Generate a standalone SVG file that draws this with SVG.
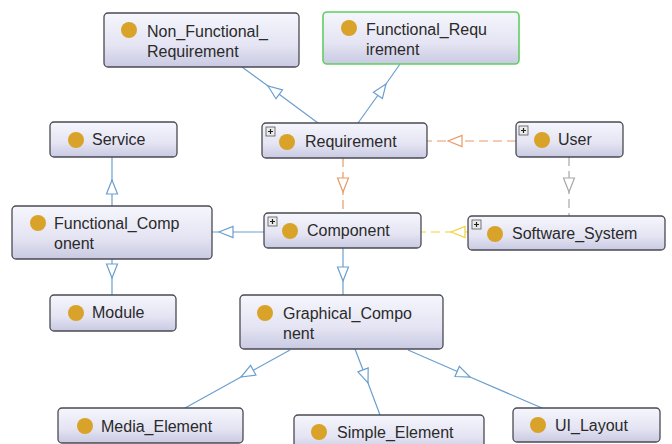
<svg xmlns="http://www.w3.org/2000/svg" width="672" height="444" viewBox="0 0 672 444">
  <defs>
    <linearGradient id="boxFill" x1="0" y1="0" x2="0" y2="1">
      <stop offset="0" stop-color="#f6f6fd"/>
      <stop offset="0.6" stop-color="#e4e4f3"/>
      <stop offset="1" stop-color="#c9c9e2"/>
    </linearGradient>
    <marker id="triBlue" viewBox="-15 -7 16 14" refX="0" refY="0" markerWidth="16" markerHeight="14" markerUnits="userSpaceOnUse" orient="auto">
      <path d="M0,0 L-14,-5.5 L-14,5.5 Z" fill="#fff" stroke="#6b9fcf" stroke-width="1.2"/>
    </marker>
    <marker id="triOrange" viewBox="-15 -7 16 14" refX="0" refY="0" markerWidth="16" markerHeight="14" markerUnits="userSpaceOnUse" orient="auto">
      <path d="M0,0 L-14,-5.5 L-14,5.5 Z" fill="#fff" stroke="#e89a66" stroke-width="1.2"/>
    </marker>
    <marker id="triGrey" viewBox="-15 -7 16 14" refX="0" refY="0" markerWidth="16" markerHeight="14" markerUnits="userSpaceOnUse" orient="auto">
      <path d="M0,0 L-14,-5.5 L-14,5.5 Z" fill="#fff" stroke="#a8a8a8" stroke-width="1.2"/>
    </marker>
    <marker id="triYellow" viewBox="-15 -7 16 14" refX="0" refY="0" markerWidth="16" markerHeight="14" markerUnits="userSpaceOnUse" orient="auto">
      <path d="M0,0 L-14,-5.5 L-14,5.5 Z" fill="#fff" stroke="#f2d23a" stroke-width="1.2"/>
    </marker>
  </defs>
  <style>
    .box { fill: url(#boxFill); stroke: #4a4a52; stroke-width: 1.3; }
    .box.sel { stroke: #5fcf5f; stroke-width: 1.6; }
    .dot { fill: #d9a228; }
    .lbl { font-family: "Liberation Sans", Arial, sans-serif; font-size: 16px; fill: #2a2a2a; }
    .exp rect { fill: #ececec; stroke: #555; stroke-width: 0.8; }
    .exp path { stroke: #222; stroke-width: 1.2; fill: none; }
    .edge { fill: none; stroke-width: 1.2; }
    .blue { stroke: #6b9fcf; marker-mid: url(#triBlue); }
    .orange { stroke: #e89a66; stroke-dasharray: 9 5; marker-mid: url(#triOrange); }
    .grey { stroke: #a8a8a8; stroke-dasharray: 9 5; marker-mid: url(#triGrey); }
    .yellow { stroke: #f2d23a; stroke-dasharray: 9 5; marker-mid: url(#triYellow); }
  </style>

  <rect width="672" height="444" fill="#fff"/>

  <!-- connectors: each path passes through the arrow tip, where the marker sits -->
  <g id="connectors">
    <path class="edge blue" d="M318,123 L268,86 L242,67"/>
    <path class="edge blue" d="M358,123 L386,84 L400,64"/>
    <path class="edge orange" d="M343,158 L343,192 L343,214"/>
    <path class="edge orange" d="M516,141 L448,141 L427,141"/>
    <path class="edge grey" d="M569,157 L569,192 L569,216"/>
    <path class="edge yellow" d="M468,232 L451,232 L421,232"/>
    <path class="edge blue" d="M264,232 L219,232 L212,232"/>
    <path class="edge blue" d="M112,206 L112,180 L112,157"/>
    <path class="edge blue" d="M112,259 L112,278 L112,295"/>
    <path class="edge blue" d="M343,248 L343,281 L343,295"/>
    <path class="edge blue" d="M290,350 L241,377 L185,408"/>
    <path class="edge blue" d="M355,349 L368,383 L380,415"/>
    <path class="edge blue" d="M408,350 L470,377 L542,408"/>
  </g>

  <g id="non_functional_requirement">
    <rect class="box" x="104" y="13" width="195" height="54" rx="4"/>
    <circle class="dot" cx="129" cy="30" r="8"/>
    <text class="lbl" x="147" y="37">Non_Functional_</text>
    <text class="lbl" x="147" y="57">Requirement</text>
  </g>

  <g id="functional_requirement">
    <rect class="box sel" x="323" y="12" width="196" height="52" rx="4"/>
    <circle class="dot" cx="349" cy="28" r="8"/>
    <text class="lbl" x="366" y="35">Functional_Requ</text>
    <text class="lbl" x="366" y="55">irement</text>
  </g>

  <g id="requirement">
    <rect class="box" x="262" y="123" width="165" height="35" rx="4"/>
    <g class="exp"><rect x="266" y="127" width="9" height="9"/><path d="M268,131.5 H273 M270.5,129 V134"/></g>
    <circle class="dot" cx="287" cy="142" r="8"/>
    <text class="lbl" x="305" y="147">Requirement</text>
  </g>

  <g id="user">
    <rect class="box" x="516" y="122" width="107" height="35" rx="4"/>
    <g class="exp"><rect x="519" y="126" width="9" height="9"/><path d="M521,130.5 H526 M523.5,128 V133"/></g>
    <circle class="dot" cx="542" cy="140" r="8"/>
    <text class="lbl" x="558" y="145">User</text>
  </g>

  <g id="service">
    <rect class="box" x="50" y="122" width="127" height="35" rx="4"/>
    <circle class="dot" cx="76" cy="140" r="8"/>
    <text class="lbl" x="92" y="145">Service</text>
  </g>

  <g id="functional_component">
    <rect class="box" x="12" y="206" width="200" height="53" rx="4"/>
    <circle class="dot" cx="38" cy="223" r="8"/>
    <text class="lbl" x="54" y="229">Functional_Comp</text>
    <text class="lbl" x="54" y="249">onent</text>
  </g>

  <g id="component">
    <rect class="box" x="264" y="213" width="157" height="35" rx="4"/>
    <g class="exp"><rect x="268" y="217" width="9" height="9"/><path d="M270,221.5 H275 M272.5,219 V224"/></g>
    <circle class="dot" cx="290" cy="231" r="8"/>
    <text class="lbl" x="307" y="236">Component</text>
  </g>

  <g id="software_system">
    <rect class="box" x="468" y="216" width="197" height="34" rx="4"/>
    <g class="exp"><rect x="472" y="220" width="9" height="9"/><path d="M474,224.5 H479 M476.5,222 V227"/></g>
    <circle class="dot" cx="495" cy="234" r="8"/>
    <text class="lbl" x="512" y="239">Software_System</text>
  </g>

  <g id="module">
    <rect class="box" x="50" y="295" width="126" height="36" rx="4"/>
    <circle class="dot" cx="76" cy="313" r="8"/>
    <text class="lbl" x="92" y="318">Module</text>
  </g>

  <g id="graphical_component">
    <rect class="box" x="240" y="295" width="203" height="54" rx="4"/>
    <circle class="dot" cx="265" cy="313" r="8"/>
    <text class="lbl" x="283" y="319">Graphical_Compo</text>
    <text class="lbl" x="283" y="339">nent</text>
  </g>

  <g id="media_element">
    <rect class="box" x="58" y="408" width="185" height="35" rx="4"/>
    <circle class="dot" cx="85" cy="426" r="8"/>
    <text class="lbl" x="101" y="432">Media_Element</text>
  </g>

  <g id="simple_element">
    <rect class="box" x="294" y="415" width="190" height="36" rx="4"/>
    <circle class="dot" cx="319" cy="432" r="8"/>
    <text class="lbl" x="337" y="438">Simple_Element</text>
  </g>

  <g id="ui_layout">
    <rect class="box" x="513" y="408" width="147" height="34" rx="4"/>
    <circle class="dot" cx="538" cy="425" r="8"/>
    <text class="lbl" x="555" y="431">UI_Layout</text>
  </g>
</svg>
